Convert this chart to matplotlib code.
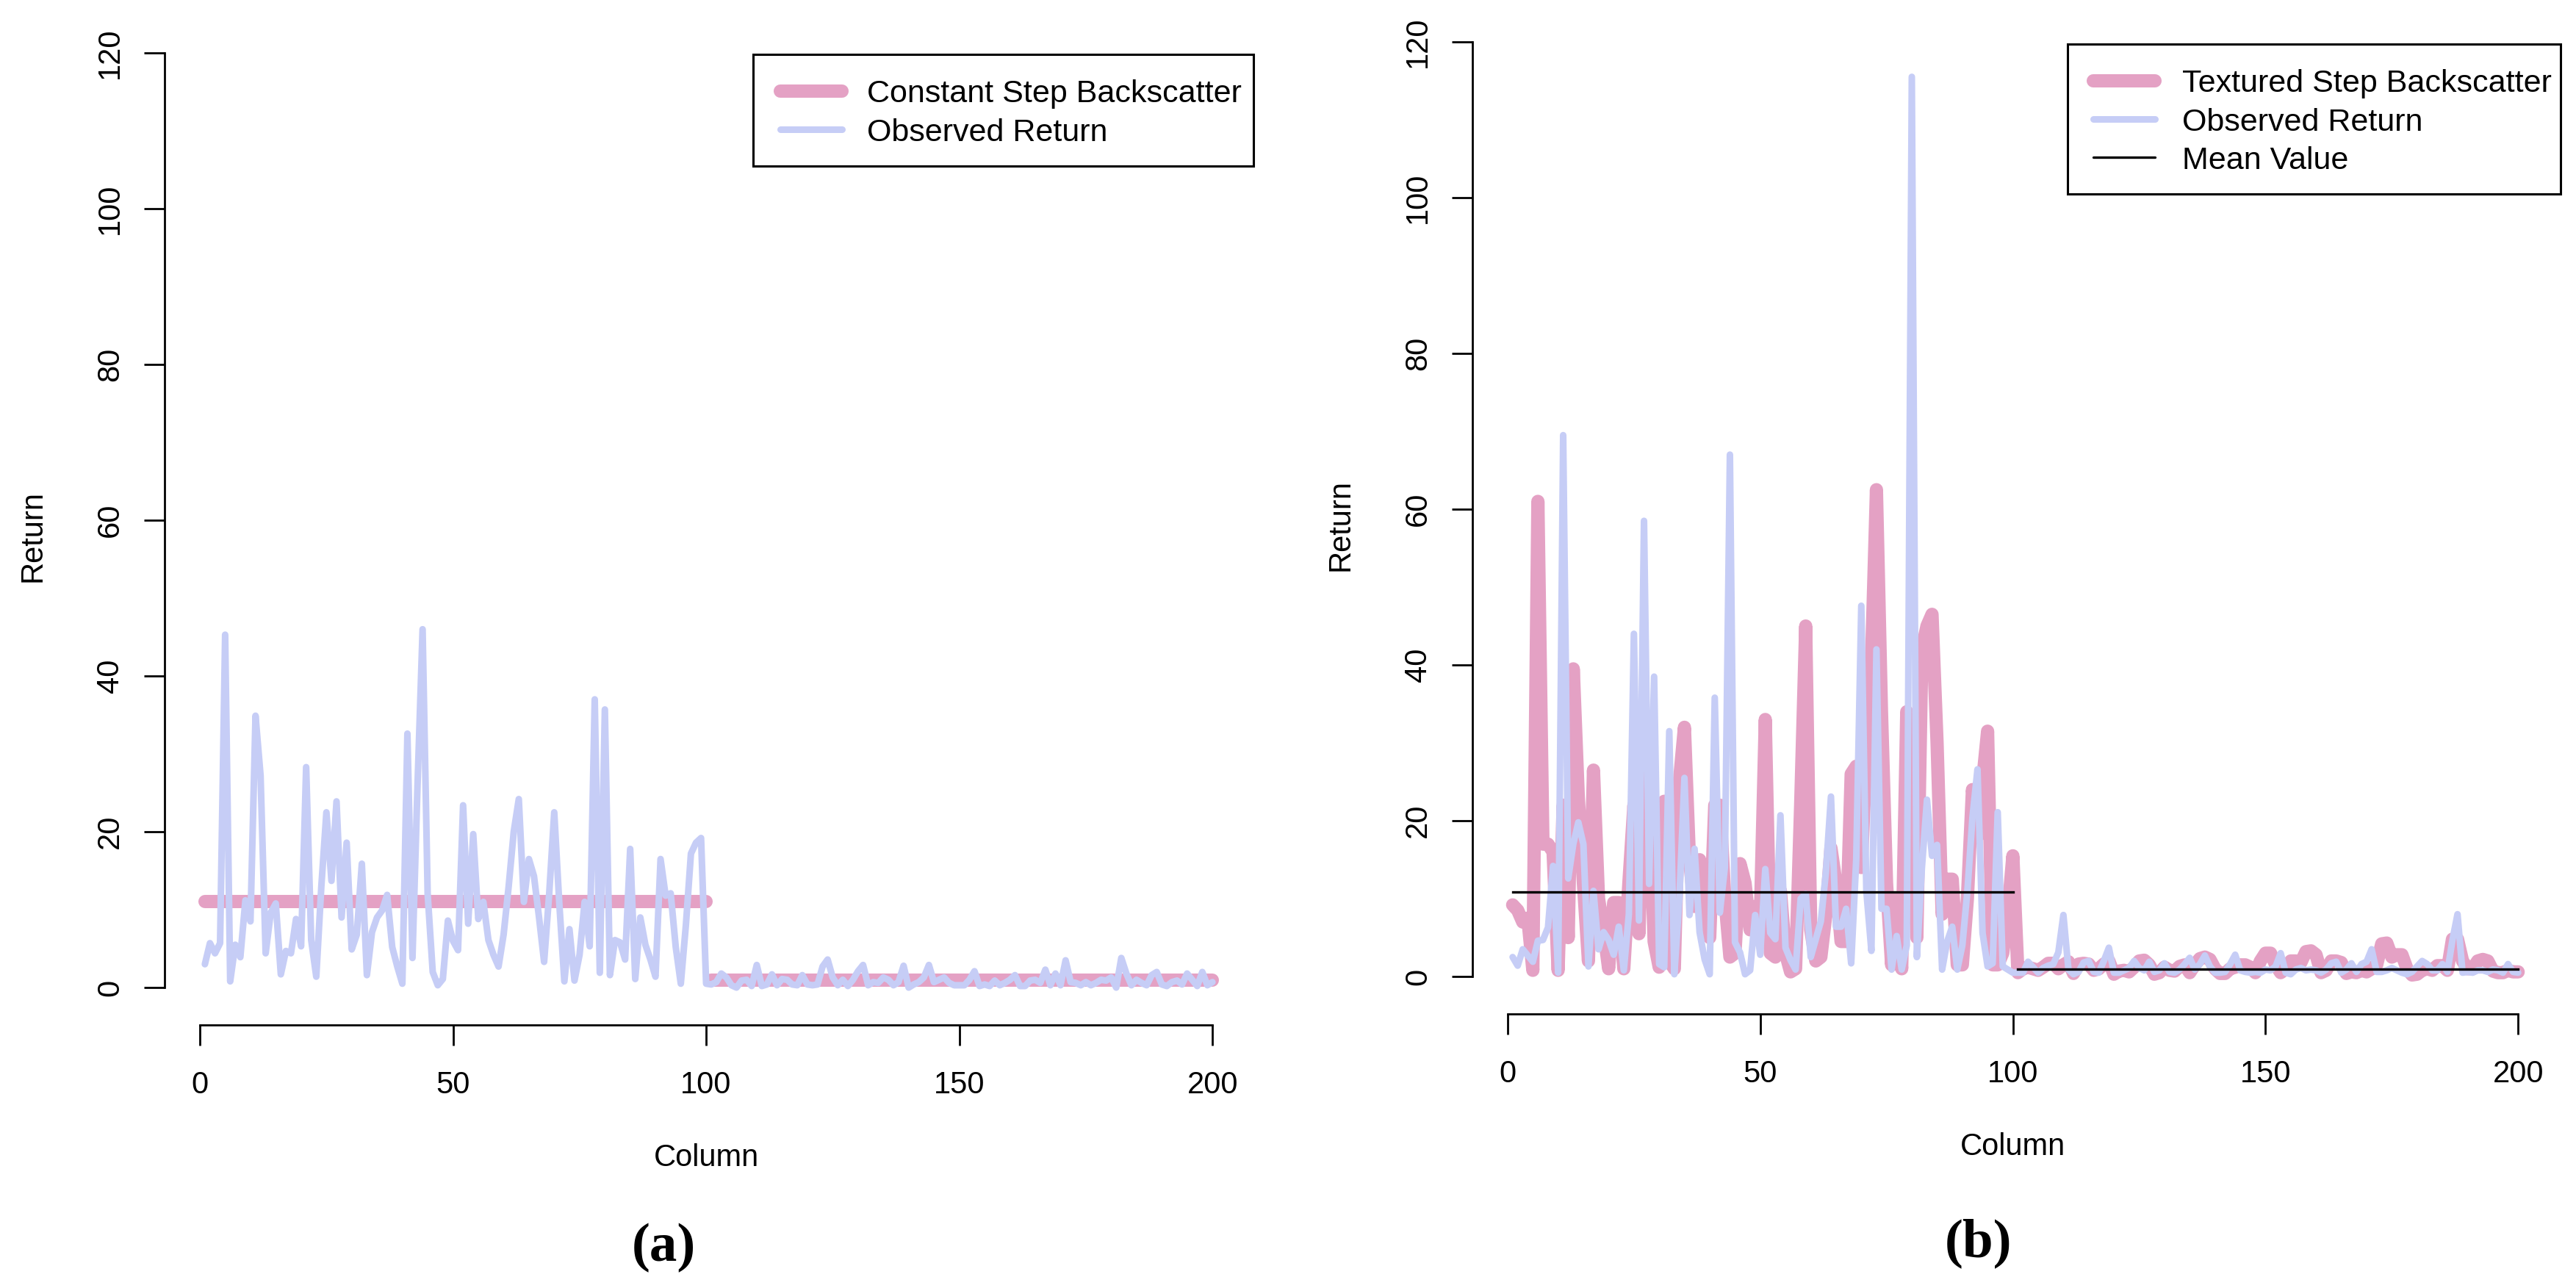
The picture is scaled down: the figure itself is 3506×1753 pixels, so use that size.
import numpy as np
import matplotlib
matplotlib.use("Agg")
import matplotlib.pyplot as plt
from matplotlib.lines import Line2D
from matplotlib.patches import Rectangle

plt.rcParams['font.family'] = ['Liberation Sans', 'DejaVu Sans']

# ---------------- data ----------------
columns = np.arange(1, 201)

# panel (a)
const_step_levels = [11.0, 1.0]          # backscatter level for columns 1-100 and 101-200
obs_a_first = [3.0, 5.7, 4.4, 5.7, 45.3, 0.8, 5.5, 3.9, 11.2, 8.5,
               34.9, 27.2, 4.4, 9.6, 10.8, 1.7, 4.7, 4.4, 8.8, 5.3,
               28.3, 6.1, 1.4, 13.0, 22.5, 13.7, 23.9, 9.0, 18.6, 4.9,
               6.8, 15.9, 1.6, 7.1, 9.0, 9.9, 11.9, 5.2, 2.7, 0.5,
               32.6, 3.8, 26.0, 46.0, 12.0, 2.0, 0.3, 1.1, 8.6, 6.0,
               4.8, 23.4, 8.2, 19.7, 8.8, 11.0, 6.1, 4.2, 2.7, 6.8,
               13.0, 20.0, 24.2, 11.0, 16.5, 14.3, 9.0, 3.3, 12.0, 22.5,
               10.8, 0.8, 7.5, 0.9, 4.2, 11.0, 5.3, 37.0, 1.9, 35.7,
               1.6, 6.1, 5.8, 3.6, 17.8, 1.1, 9.0, 5.5, 3.6, 1.4,
               16.5, 11.8, 12.1, 5.2, 0.5, 8.0, 17.2, 18.6, 19.2, 0.5]
obs_a_second = [0.4, 0.7, 1.8, 1.3, 0.3, 0.0, 0.9, 1.0, 0.2, 2.9,
                0.2, 0.4, 1.7, 0.3, 1.1, 1.0, 0.4, 0.3, 1.6, 0.4,
                0.3, 0.4, 2.7, 3.6, 1.3, 0.3, 1.0, 0.2, 1.0, 2.1,
                2.9, 0.3, 0.7, 0.6, 1.3, 1.0, 0.3, 0.7, 2.8, 0.0,
                0.4, 0.7, 1.3, 2.9, 0.7, 1.0, 1.3, 0.6, 0.3, 0.3,
                0.3, 1.0, 2.1, 0.2, 0.4, 0.2, 0.9, 0.3, 0.6, 1.0,
                1.6, 0.2, 0.2, 0.9, 1.0, 0.6, 2.3, 0.3, 1.8, 0.3,
                3.5, 0.7, 0.6, 0.3, 0.7, 0.3, 0.6, 1.0, 0.9, 1.3,
                0.0, 3.8, 1.8, 0.3, 1.0, 0.6, 0.3, 1.6, 2.0, 0.4,
                0.2, 0.7, 0.9, 0.4, 1.8, 1.0, 0.2, 2.0, 0.3, 0.7]

# panel (b)
textured_first = [9.2, 8.5, 7.0, 7.5, 0.8, 61.0, 17.0, 17.0, 16.0, 0.8,
                  22.0, 5.0, 39.5, 23.0, 12.0, 2.0, 26.5, 10.0, 6.0, 1.0,
                  9.5, 9.5, 1.0, 12.0, 22.0, 5.5, 27.0, 25.0, 4.5, 1.2,
                  22.5, 2.0, 1.0, 25.0, 32.0, 15.0, 9.0, 15.0, 12.0, 5.0,
                  22.0, 22.0, 10.0, 2.5, 3.0, 14.5, 12.0, 6.0, 9.0, 7.0,
                  33.0, 3.0, 2.5, 11.0, 3.0, 0.6, 1.0, 22.0, 45.0, 6.0,
                  2.0, 2.5, 8.0, 16.5, 12.0, 4.5, 4.5, 26.0, 27.0, 14.0,
                  29.0, 40.0, 62.5, 34.0, 12.0, 1.5, 10.0, 1.0, 34.0, 20.0,
                  5.0, 42.0, 45.0, 46.5, 30.0, 8.0, 12.5, 12.5, 1.5, 1.5,
                  10.0, 24.0, 18.0, 25.0, 31.5, 1.5, 1.5, 3.0, 8.0, 15.5]
textured_second = [0.5, 1.0, 1.2, 1.0, 0.8, 1.2, 1.7, 1.7, 1.0, 1.5,
                   1.9, 0.4, 1.6, 1.7, 1.6, 0.8, 1.0, 1.6, 2.0, 0.3,
                   0.7, 0.8, 0.6, 1.2, 2.0, 2.1, 1.5, 0.3, 0.5, 1.2,
                   0.8, 0.7, 1.3, 1.5, 0.5, 1.5, 2.3, 2.5, 2.2, 1.0,
                   0.4, 0.4, 1.0, 1.2, 1.5, 1.5, 1.2, 0.5, 2.0, 3.0,
                   3.0, 1.5, 0.5, 1.0, 2.0, 2.0, 1.8, 3.2, 3.3, 2.8,
                   0.5, 0.8, 2.0, 2.0, 1.8, 0.4, 0.6, 0.5, 0.8, 0.6,
                   1.0, 1.5, 4.2, 4.3, 2.5, 2.8, 2.8, 1.0, 0.2, 0.3,
                   0.8, 1.0, 0.8, 1.4, 1.4, 0.8, 4.8, 4.8, 2.0, 1.0,
                   1.0, 2.0, 2.2, 2.0, 0.7, 0.5, 0.5, 0.8, 0.6, 0.6]
obs_b_first = [2.5, 1.4, 3.5, 2.7, 1.9, 4.6, 4.7, 6.3, 14.2, 0.5,
               69.5, 12.6, 17.0, 19.8, 17.0, 1.3, 11.0, 3.5, 5.7, 4.7,
               2.8, 6.4, 0.8, 8.0, 44.0, 7.2, 58.5, 11.9, 38.5, 1.6,
               1.2, 31.5, 0.3, 10.0, 25.5, 7.9, 16.4, 5.7, 2.2, 0.3,
               35.8, 8.2, 14.0, 67.0, 4.4, 3.1, 0.3, 0.8, 7.9, 2.8,
               13.8, 5.6, 4.8, 20.7, 3.7, 2.1, 0.9, 10.0, 10.6, 2.5,
               4.8, 7.1, 13.4, 23.1, 6.4, 6.4, 8.7, 1.7, 15.0, 47.6,
               11.0, 3.3, 42.0, 8.7, 8.7, 0.9, 5.2, 0.9, 4.0, 115.5,
               2.5, 14.0, 22.7, 15.5, 16.9, 0.9, 4.5, 6.4, 0.9, 4.0,
               11.0, 20.4, 26.6, 5.6, 1.3, 1.7, 21.1, 1.3, 0.9, 0.5]
obs_b_second = [0.5, 0.5, 1.9, 1.2, 0.5, 1.1, 1.4, 1.6, 3.1, 7.9,
                0.9, 0.3, 0.6, 1.8, 2.0, 0.6, 0.5, 2.0, 3.7, 0.5,
                0.5, 0.8, 1.1, 2.0, 1.1, 0.8, 1.9, 0.6, 0.8, 1.7,
                0.6, 0.5, 0.9, 1.6, 2.4, 0.9, 1.6, 2.7, 1.3, 0.5,
                0.5, 0.6, 1.6, 2.8, 0.8, 0.6, 0.5, 0.6, 0.5, 0.9,
                0.8, 1.3, 3.0, 0.5, 0.3, 0.9, 1.1, 0.8, 0.9, 0.8,
                0.5, 0.9, 1.7, 1.9, 0.5, 0.9, 1.7, 0.6, 1.6, 1.9,
                3.5, 0.6, 0.6, 0.8, 1.1, 0.8, 0.5, 0.3, 0.6, 1.3,
                2.0, 1.6, 0.8, 0.8, 1.6, 0.6, 4.7, 8.0, 0.5, 0.6,
                0.5, 0.8, 0.8, 0.6, 0.9, 0.8, 0.5, 1.6, 0.6, 0.5]
mean_levels = [10.9, 1.0]

x_ticks = [0, 50, 100, 150, 200]
y_ticks = [0, 20, 40, 60, 80, 100, 120]

legend_a = ['Constant Step Backscatter', 'Observed Return']
legend_b = ['Textured Step Backscatter', 'Observed Return', 'Mean Value']

obs_a = np.array(obs_a_first + obs_a_second)
tex_b = np.array(textured_first + textured_second)
obs_b = np.array(obs_b_first + obs_b_second)

# ---------------- style ----------------
PINK = '#E4A1C4'
BLUE = '#C6CDF6'
W, H = 3506, 1753
DPI = 100
PX = 72.0 / DPI   # points per pixel
FS = 30

fig = plt.figure(figsize=(W / DPI, H / DPI), dpi=DPI)

def fx(px):
    return px / W

def fy(py):
    return 1 - py / H

def make_axes(left, right, top, bottom):
    return fig.add_axes([fx(left), fy(bottom), (right - left) / W, (bottom - top) / H])

ax_a = make_axes(224, 1705, 21, 1395)
ax_b = make_axes(2004, 3482, 6, 1380)

def style(ax):
    ax.set_xlim(-6.96, 207.96)
    ax.set_ylim(-4.8, 124.8)
    for s in ('top', 'right'):
        ax.spines[s].set_visible(False)
    ax.spines['left'].set_bounds(0, 120)
    ax.spines['bottom'].set_bounds(0, 200)
    for s in ('left', 'bottom'):
        ax.spines[s].set_linewidth(2.0)
    ax.set_xticks(x_ticks)
    ax.set_yticks(y_ticks)
    ax.tick_params(axis='both', direction='out', length=28 * PX, width=2.0,
                   labelsize=FS)
    ax.tick_params(axis='x', pad=34 * PX)
    ax.tick_params(axis='y', pad=26 * PX, labelrotation=90)
    for lab in ax.get_yticklabels():
        lab.set_va('center')
    ax.annotate('Column', xy=(100, 0), xycoords=('data', 'axes fraction'),
                xytext=(0, -181 * PX), textcoords='offset points',
                ha='center', va='center', fontsize=FS)
    ax.annotate('Return', xy=(0, 58), xycoords=('axes fraction', 'data'),
                xytext=(-179 * PX, 0), textcoords='offset points',
                ha='center', va='center', rotation=90, fontsize=FS)

LW_PINK = 13
LW_BLUE = 6.5
LW_MEAN = 2.4
kw_round = dict(solid_capstyle='round', solid_joinstyle='round')

# panel (a)
ax_a.plot(columns[:100], [const_step_levels[0]] * 100, color=PINK, lw=LW_PINK, **kw_round)
ax_a.plot(columns[100:], [const_step_levels[1]] * 100, color=PINK, lw=LW_PINK, **kw_round)
ax_a.plot(columns, obs_a, color=BLUE, lw=LW_BLUE, **kw_round)
style(ax_a)

# panel (b)
ax_b.plot(columns, tex_b, color=PINK, lw=LW_PINK, **kw_round)
ax_b.plot(columns, obs_b, color=BLUE, lw=LW_BLUE, **kw_round)
ax_b.plot(columns[:100], [mean_levels[0]] * 100, color='black', lw=LW_MEAN)
ax_b.plot(columns[100:], [mean_levels[1]] * 100, color='black', lw=LW_MEAN)
style(ax_b)

def draw_legend(box, handle_x, text_x, row_y, entries):
    x0, y0, x1, y1 = box
    fig.add_artist(Rectangle((fx(x0), fy(y1)), (x1 - x0) / W, (y1 - y0) / H,
                             transform=fig.transFigure, facecolor='white',
                             edgecolor='black', lw=2.2, zorder=5))
    for (color, lw, label), ry in zip(entries, row_y):
        fig.add_artist(Line2D([fx(handle_x[0]), fx(handle_x[1])], [fy(ry), fy(ry)],
                              transform=fig.transFigure, color=color, lw=lw,
                              zorder=6, **kw_round))
        fig.text(fx(text_x), fy(ry), label, ha='left', va='center_baseline',
                 fontsize=31, zorder=6)

draw_legend((1025, 74, 1706, 226), (1062, 1146), 1180, (124, 176),
            [(PINK, LW_PINK, legend_a[0]), (BLUE, LW_BLUE, legend_a[1])])
draw_legend((2814, 60, 3485, 264), (2849, 2933), 2970, (110, 162, 214),
            [(PINK, LW_PINK, legend_b[0]), (BLUE, LW_BLUE, legend_b[1]),
             ('black', LW_MEAN, legend_b[2])])

fig.text(903 / W, 1 - 1698 / H, '(a)', ha='center', va='center', fontsize=54,
         family=['Liberation Serif', 'DejaVu Serif'], weight='bold')
fig.text(2692 / W, 1 - 1692 / H, '(b)', ha='center', va='center', fontsize=54,
         family=['Liberation Serif', 'DejaVu Serif'], weight='bold')

fig.savefig('out.png', dpi=DPI)
